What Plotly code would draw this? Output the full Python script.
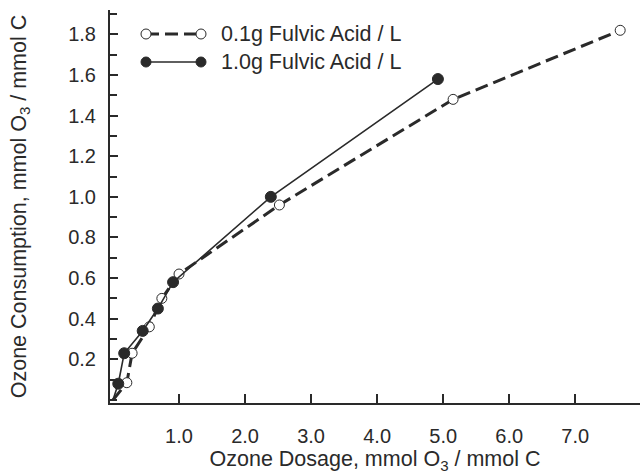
import plotly.graph_objects as go

# Data
dose_01 = [0.0, 0.21, 0.29, 0.55, 0.74, 1.0, 2.52, 5.15, 7.68]
cons_01 = [0.0, 0.085, 0.23, 0.36, 0.50, 0.62, 0.96, 1.48, 1.82]
dose_10 = [0.0, 0.08, 0.17, 0.45, 0.68, 0.91, 2.39, 4.92]
cons_10 = [0.0, 0.08, 0.23, 0.34, 0.45, 0.58, 1.00, 1.58]
label_01 = "0.1g Fulvic Acid / L"
label_10 = "1.0g Fulvic Acid / L"
x_ticks = [1, 2, 3, 4, 5, 6, 7]
y_ticks = [0.2, 0.4, 0.6, 0.8, 1.0, 1.2, 1.4, 1.6, 1.8]

INK = "#2a2a2a"
FONT = "Liberation Sans, Arial, sans-serif"

W, H = 641, 474
L, R, T, B = 110, 1, 10, 71
pw, ph = W - L - R, H - T - B

def px(x):
    return (x - L) / pw

def py(y):
    return (H - B - y) / ph

fig = go.Figure()
fig.add_trace(go.Scatter(
    x=dose_01, y=cons_01, mode="lines+markers", name=label_01,
    line=dict(color=INK, width=3, dash="13px,6px"),
    marker=dict(size=[0] + [10] * (len(dose_01) - 1), color="white", opacity=1,
                line=dict(color=INK, width=1)),
    showlegend=False,
))
fig.add_trace(go.Scatter(
    x=dose_10, y=cons_10, mode="lines+markers", name=label_10,
    line=dict(color=INK, width=1.6),
    marker=dict(size=[0] + [11] * (len(dose_10) - 1), color=INK, opacity=1,
                line=dict(color=INK, width=1)),
    showlegend=False,
))

# Custom legend (paper coordinates)
shapes = []
annotations = []
rows = [(34, "13px,6px", 3, "white", label_01), (62, "solid", 1.6, INK, label_10)]
for ypx, dash, lw, fill, lab in rows:
    shapes.append(dict(type="line", xref="paper", yref="paper",
                       x0=px(146), x1=px(201), y0=py(ypx), y1=py(ypx),
                       line=dict(color=INK, width=lw, dash=dash)))
    for cx in (146, 201):
        shapes.append(dict(type="circle", xref="paper", yref="paper",
                           xsizemode="pixel", ysizemode="pixel",
                           xanchor=px(cx), yanchor=py(ypx),
                           x0=-5, x1=5, y0=-5, y1=5,
                           fillcolor=fill, line=dict(color=INK, width=1)))
    annotations.append(dict(xref="paper", yref="paper", x=px(219), y=py(ypx),
                            xanchor="left", yanchor="middle", showarrow=False,
                            text=lab, font=dict(size=21.5, color=INK, family=FONT)))

fig.update_layout(
    width=W, height=H,
    margin=dict(l=L, r=R, t=T, b=B),
    paper_bgcolor="white", plot_bgcolor="white",
    font=dict(family=FONT, color=INK, size=20),
    shapes=shapes, annotations=annotations,
    xaxis=dict(
        range=[-0.045, 7.98], showgrid=False, zeroline=False,
        showline=True, linecolor=INK, linewidth=2,
        tickmode="array", tickvals=x_ticks, tickformat=".1f",
        ticks="inside", ticklen=9, tickwidth=2, tickcolor=INK,
        ticklabelstandoff=14,
        tickfont=dict(size=20),
        title=dict(text="Ozone Dosage, mmol O<sub>3</sub> / mmol C",
                   font=dict(size=21.5), standoff=6),
    ),
    yaxis=dict(
        range=[-0.015, 1.92], showgrid=False, zeroline=False,
        showline=True, linecolor=INK, linewidth=2,
        tickmode="array", tickvals=y_ticks, tickformat=".1f",
        ticks="inside", ticklen=8, tickwidth=2, tickcolor=INK,
        ticklabelstandoff=8,
        tickfont=dict(size=20),
        minor=dict(dtick=0.1, tick0=0, ticks="inside", ticklen=7,
                   tickwidth=2, tickcolor=INK, showgrid=False),
        title=dict(text="Ozone Consumption, mmol O<sub>3</sub> / mmol C",
                   font=dict(size=21.5), standoff=36),
    ),
)

fig.write_html("out.html")
